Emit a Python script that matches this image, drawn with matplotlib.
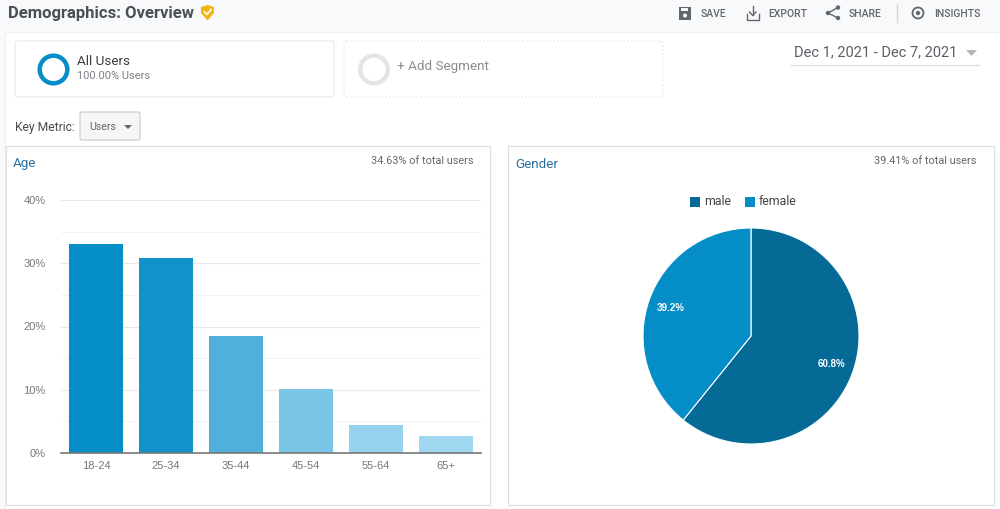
import matplotlib
matplotlib.use('Agg')
import matplotlib.pyplot as plt
from matplotlib.patches import Rectangle, FancyBboxPatch, Circle, Polygon

plt.rcParams['font.family'] = ['Roboto', 'DejaVu Sans']

age_labels = ['18-24', '25-34', '35-44', '45-54', '55-64', '65+']
age_values = [33.0, 30.8, 18.5, 10.1, 4.4, 2.7]
age_colors = ['#058dc7', '#1192cb', '#50b0da', '#79c5e6', '#94d2ee', '#a0d7f0']
age_ticks = [0, 10, 20, 30, 40]
age_minor = [5, 15, 25, 35]

gender_labels = ['male', 'female']
gender_values = [60.8, 39.2]
gender_colors = ['#056b96', '#058dc7']

actions = ['SAVE', 'EXPORT', 'SHARE', 'INSIGHTS']
action_x = [700.5, 768, 849, 934]

fig = plt.figure(figsize=(10, 5.09), dpi=100, facecolor='#f8f9fa')

# page furniture, in pixel coordinates
bg = fig.add_axes([0, 0, 1, 1])
bg.set_xlim(0, 1000)
bg.set_ylim(509, 0)
bg.axis('off')


def box(x, y, w, h, fc='white', ec='#e6e8ea', lw=0.8, ls='-', r=0):
    if r:
        p = FancyBboxPatch((x, y), w, h, boxstyle='round,pad=0,rounding_size=%s' % r,
                           fc=fc, ec=ec, lw=lw, ls=ls)
    else:
        p = Rectangle((x, y), w, h, fc=fc, ec=ec, lw=lw, ls=ls)
    bg.add_patch(p)


box(5, 32, 1000, 490, ec='#eceef0')
box(15, 41, 319, 56, r=3)
box(344, 41, 319, 56, ec='#e4e6e8', lw=0.7, ls=(0, (2, 2)), r=3)
box(80, 112, 60, 28, fc='#f6f6f6', ec='#c6c8cb', r=2)
box(6, 146, 483.5, 359.5, ec='#dcdee1')
box(508, 146, 485.5, 359.5, ec='#dcdee1')

bg.add_patch(Circle((53.5, 69.5), 13.8, fc='none', ec='#058dc7', lw=3.2))
bg.add_patch(Circle((374, 69.5), 13.8, fc='none', ec='#e3e4e6', lw=3.2))

bg.text(8.5, 13, 'Demographics: Overview', fontsize=12, fontweight='bold', color='#4a4f55', va='center')
# verified badge
bg.add_patch(Polygon([(201, 7), (207.5, 5), (214, 7), (214, 13), (207.5, 20.5), (201, 13)], fc='#f5b511', ec='none'))
bg.plot([204.5, 207, 211], [12, 14.5, 9.5], color='white', lw=1.2)

bg.text(77, 61, 'All Users', fontsize=9.7, color='#3b3f44', va='center')
bg.text(77, 76, '100.00% Users', fontsize=7.9, color='#7a7e83', va='center')
bg.text(397, 66, '+ Add Segment', fontsize=9.7, color='#8a8d91', va='center')
bg.text(15, 127, 'Key Metric:', fontsize=8.7, color='#4a4a4a', va='center')
bg.text(89, 126.5, 'Users', fontsize=7.7, color='#666666', va='center')
bg.add_patch(Polygon([(124, 125), (132, 125), (128, 129)], fc='#666666', ec='none'))

bg.text(794, 52.5, 'Dec 1, 2021 - Dec 7, 2021', fontsize=10.5, color='#5a5f66', va='center')
bg.add_patch(Polygon([(966, 50), (977, 50), (971.5, 56), ], fc='#b4b7bb', ec='none'))
bg.plot([791, 979], [64.5, 64.5], color='#dfe1e4', lw=1)

for name, x in zip(actions, action_x):
    bg.text(x, 13.5, name, fontsize=7.5, fontweight='medium', color='#62676d', va='center')

# toolbar icons
bg.add_patch(Rectangle((678.5, 7), 12.5, 12.5, fc='#62676d', ec='none'))
bg.add_patch(Rectangle((681, 8), 7, 3, fc='#f8f9fa', ec='none'))
bg.add_patch(Circle((685, 15.5), 2, fc='#f8f9fa', ec='none'))
bg.plot([746.5, 746.5, 759, 759], [14, 19.5, 19.5, 14], color='#62676d', lw=1)
bg.plot([752.7, 752.7], [6, 15], color='#62676d', lw=1)
bg.plot([749.5, 752.7, 756], [12, 15.5, 12], color='#62676d', lw=1)
bg.plot([838, 828, 838], [7.5, 13, 18], color='#62676d', lw=1)
for cx, cy in [(838, 7.5), (828, 13), (838, 18)]:
    bg.add_patch(Circle((cx, cy), 2.2, fc='#62676d', ec='none'))
bg.plot([896.5, 896.5], [4, 22], color='#d5d7da', lw=1)
bg.add_patch(Circle((918, 13), 5.5, fc='none', ec='#62676d', lw=1.3))
bg.add_patch(Circle((918, 13), 2.2, fc='#62676d', ec='none'))

# age bars
ax = fig.add_axes([61 / 1000, 1 - 453 / 509, 420 / 1000, 253 / 509])
ax.bar(age_labels, age_values, width=0.785, color=age_colors, zorder=3)
ax.set_xlim(-0.5, 5.5)
ax.set_ylim(0, 40)
ax.set_yticks(age_ticks)
ax.set_yticklabels(['%d%%' % t for t in age_ticks], family='Liberation Sans')
ax.set_xticks(range(len(age_labels)))
ax.set_xticklabels(age_labels, family='Liberation Sans')
ax.set_yticks(age_minor, minor=True)
ax.grid(axis='y', which='major', color='#e8e8e8', lw=0.8, zorder=0)
ax.grid(axis='y', which='minor', color='#f3f3f3', lw=0.8, zorder=0)
ax.tick_params(axis='both', which='both', length=0)
ax.tick_params(axis='y', labelsize=8, labelcolor='#777777', pad=11)
ax.tick_params(axis='x', labelsize=8, labelcolor='#777777', pad=6)
for s in ['top', 'left', 'right']:
    ax.spines[s].set_visible(False)
ax.spines['bottom'].set_color('#777777')
ax.spines['bottom'].set_linewidth(1.2)
ax.spines['bottom'].set_zorder(4)

bg.text(13, 163, 'Age', fontsize=9.7, color='#2a6f9e', va='center')
bg.text(473.5, 161, '34.63% of total users', fontsize=7.8, color='#666666', va='center', ha='right')
bg.text(515, 164, 'Gender', fontsize=9.7, color='#2a6f9e', va='center')
bg.text(976.5, 161, '39.41% of total users', fontsize=7.8, color='#666666', va='center', ha='right')

# gender pie
pie = fig.add_axes([(751 - 108) / 1000, 1 - (336 + 108) / 509, 216 / 1000, 216 / 509])
wedges, _, autotexts = pie.pie(gender_values, colors=gender_colors, startangle=90, counterclock=False,
                               radius=1, autopct='%.1f%%', pctdistance=0.79,
                               wedgeprops={'edgecolor': 'white', 'linewidth': 0.8},
                               textprops={'fontsize': 7, 'color': 'white', 'fontweight': 'bold',
                                          'family': 'Liberation Sans'})
pie.set_xlim(-1, 1)
pie.set_ylim(-1, 1)

bg.add_patch(Rectangle((690, 196.5), 10, 10, fc=gender_colors[0], ec='none'))
bg.text(704, 201.5, gender_labels[0], fontsize=8.9, color='#444444', va='center')
bg.add_patch(Rectangle((745, 196.5), 10, 10, fc=gender_colors[1], ec='none'))
bg.text(759, 201.5, gender_labels[1], fontsize=8.9, color='#444444', va='center')

fig.savefig('out.png', dpi=100, facecolor=fig.get_facecolor())
plt.close()
